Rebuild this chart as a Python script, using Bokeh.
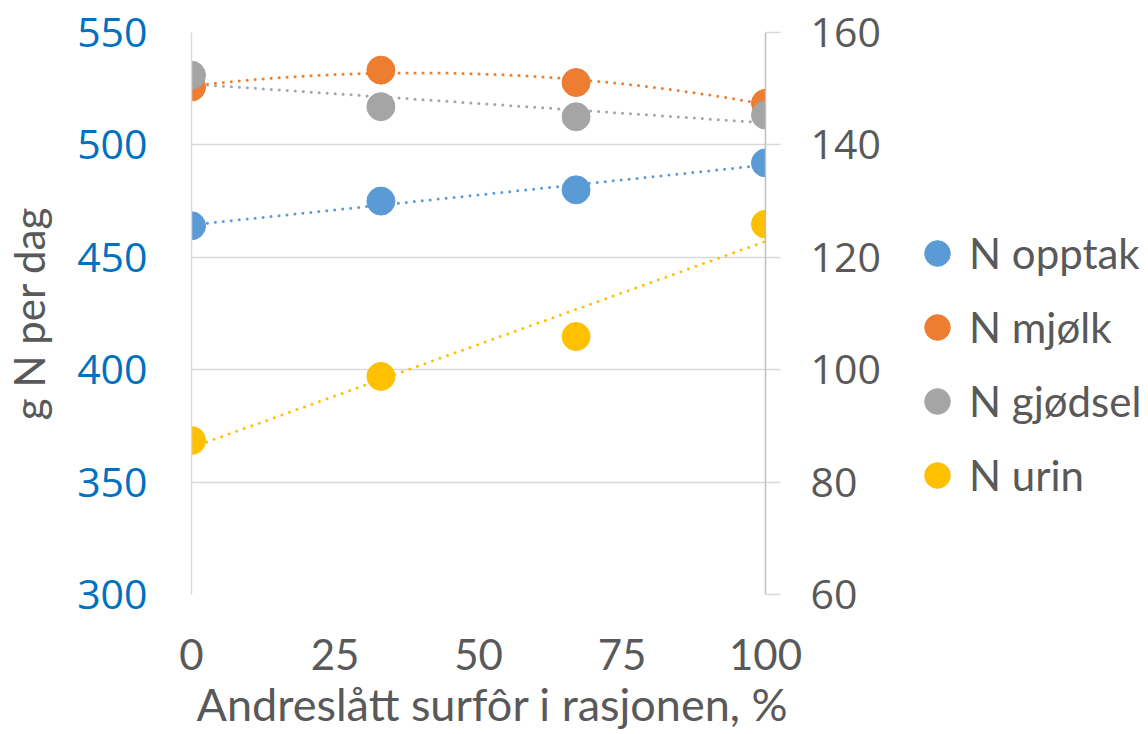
import numpy as np
from bokeh.plotting import figure
from bokeh.layouts import row
from bokeh.models import Range1d, LinearAxis, FixedTicker, Legend, LegendItem, ColumnDataSource
from bokeh.embed import file_html
from bokeh.resources import INLINE

# ---- data ----
andel = [0, 33, 67, 100]
n_opptak = [464, 475, 480, 492]          # left axis
n_mjolk = [150.3, 153.3, 151.1, 147.4]   # right axis
n_gjodsel = [152.4, 146.8, 145.0, 145.3] # right axis
n_urin = [87.4, 98.8, 105.9, 125.9]      # right axis
x_ticks = [0, 25, 50, 75, 100]
left_ticks = [300, 350, 400, 450, 500, 550]
right_ticks = [60, 80, 100, 120, 140, 160]
names = ["N opptak", "N mjølk", "N gjødsel", "N urin"]
colors = ["#5B9BD5", "#ED7D31", "#A5A5A5", "#FFC000"]
axes_of = ["default", "right", "right", "right"]
trend_order = [1, 2, 1, 1]
values = [n_opptak, n_mjolk, n_gjodsel, n_urin]

TXT = "#595959"
GRID = "#D9D9D9"
FONT = "Lato"
NUMFONT = "Open Sans"

H = 734
W_MAIN = 895
W_LEG = 1148 - W_MAIN

p = figure(width=W_MAIN, height=H, x_range=Range1d(0, 100), y_range=Range1d(300, 550),
           output_backend="svg", toolbar_location=None,
           min_border_left=191, min_border_right=W_MAIN - 765, min_border_top=32,
           min_border_bottom=H - 594)
p.outline_line_color = None
p.background_fill_color = "white"
p.border_fill_color = "white"
p.extra_y_ranges = {"right": Range1d(60, 160)}

# bottom axis
xa = p.below[0]
xa.ticker = FixedTicker(ticks=x_ticks)
xa.axis_line_color = None
xa.major_tick_line_color = None
xa.minor_tick_line_color = None
xa.major_label_text_font = FONT
xa.major_label_text_font_size = "42px"
xa.major_label_text_color = TXT
xa.major_label_standoff = 38
xa.axis_label = "\u2002\u2009Andreslått surfôr i rasjonen, %"
xa.axis_label_text_font = FONT
xa.axis_label_text_font_size = "45px"
xa.axis_label_text_font_style = "normal"
xa.axis_label_text_color = TXT
xa.axis_label_standoff = 4

# left axis
ya = p.left[0]
ya.ticker = FixedTicker(ticks=left_ticks)
ya.axis_line_color = GRID
ya.axis_line_width = 1.5
ya.major_tick_line_color = None
ya.minor_tick_line_color = None
ya.major_label_text_font = NUMFONT
ya.major_label_text_font_size = "41px"
ya.major_label_text_color = "#0070C0"
ya.major_label_standoff = 38
ya.axis_label = "g N per dag"
ya.axis_label_text_font = FONT
ya.axis_label_text_font_size = "42px"
ya.axis_label_text_font_style = "normal"
ya.axis_label_text_color = TXT
ya.axis_label_standoff = 20

# right axis
ra = LinearAxis(y_range_name="right", ticker=FixedTicker(ticks=right_ticks))
ra.axis_line_color = "#BFBFBF"
ra.axis_line_width = 1.5
ra.major_tick_line_color = GRID
ra.major_tick_line_width = 1.5
ra.major_tick_out = 15
ra.major_tick_in = 0
ra.minor_tick_line_color = None
ra.major_label_text_font = NUMFONT
ra.major_label_text_font_size = "41px"
ra.major_label_text_color = TXT
ra.major_label_standoff = 30
p.add_layout(ra, "right")

p.xgrid.visible = False
p.ygrid.grid_line_color = GRID
p.ygrid.grid_line_width = 1.5

# trend lines (fitted from the data) then markers
xs = np.linspace(0, 100, 201)
for vals, col, ax, order in zip(values, colors, axes_of, trend_order):
    coef = np.polyfit(andel, vals, order)
    p.line(xs, np.polyval(coef, xs), line_color=col, line_width=3, line_dash="0 8",
           line_cap="round", y_range_name=ax)

sources = []
for name, vals, col, ax in zip(names, values, colors, axes_of):
    src = ColumnDataSource(dict(x=andel, y=vals))
    sources.append(src)
    p.scatter("x", "y", source=src, size=28, fill_color=col, line_color=col,
              y_range_name=ax)

# legend panel (separate figure so the legend is not clipped by the plot frame)
leg = figure(width=W_LEG, height=H, x_range=Range1d(-1000, -999), y_range=Range1d(0, 1),
             output_backend="svg", toolbar_location=None,
             min_border_left=0, min_border_right=0, min_border_top=0, min_border_bottom=0)
leg.axis.visible = False
leg.grid.visible = False
leg.outline_line_color = None
leg.background_fill_color = "white"
leg.border_fill_color = "white"
items = []
for name, src, col in zip(names, sources, colors):
    r = leg.scatter("x", "y", source=src, size=28, fill_color=col, line_color=col)
    items.append(LegendItem(label=name, renderers=[r]))
legend = Legend(items=items, location=(10, 87), glyph_width=64, glyph_height=64,
                label_standoff=0, spacing=10, padding=0, margin=0,
                border_line_color=None, background_fill_alpha=0,
                label_text_font=FONT, label_text_font_size="42px", label_text_color=TXT)
leg.add_layout(legend)

layout = row(p, leg)
open("out.html", "w").write(file_html(layout, INLINE))
